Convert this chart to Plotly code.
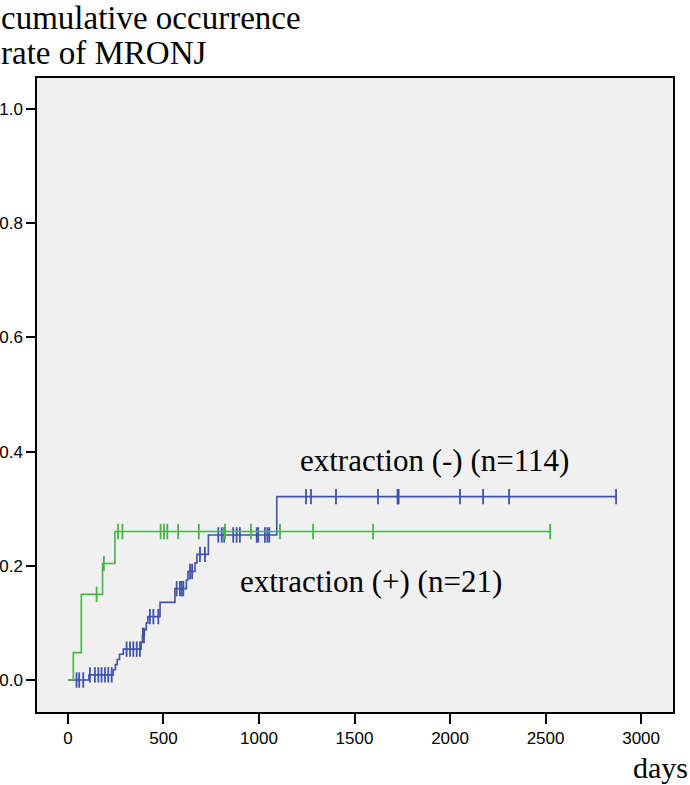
"""
Kumulative MRONJ-Inzidenz (Kaplan-Meier-Stil) nach Zahnextraktion
"""

import numpy as np
import plotly.graph_objects as go

# extraction (-) (n=114): Stufen (Tag, kumulative Rate nach der Stufe)
blau_tage = [0, 110, 237, 248, 258, 270, 290, 383, 390, 400, 410, 418,
             482, 560, 620, 628, 665, 675, 735, 1093]
blau_rate = [0.0, 0.009, 0.018, 0.027, 0.036, 0.045, 0.054, 0.066, 0.078,
             0.088, 0.100, 0.111, 0.136, 0.160, 0.175, 0.190, 0.205, 0.220,
             0.254, 0.321]
blau_ende = 2869
blau_zensiert = [45, 59, 80, 115, 141, 159, 176, 194, 211, 229,
                 307, 325, 342, 360, 377, 392, 398, 429, 447, 473,
                 569, 586, 595, 604, 639, 650, 691, 717,
                 787, 805, 818, 865, 883, 900, 988, 996, 1031, 1044, 1054,
                 1246, 1272, 1403, 1623, 1725, 1731, 2052, 2173, 2309, 2869]

# extraction (+) (n=21)
gruen_tage = [0, 28, 70, 181, 246]
gruen_rate = [0.0, 0.048, 0.150, 0.204, 0.260]
gruen_ende = 2524
gruen_zensiert = [150, 188, 262, 285, 485, 503, 520, 577, 685, 822, 958,
                  1110, 1283, 1597, 2524]

x_ticks = [0, 500, 1000, 1500, 2000, 2500, 3000]
y_ticks = [0.0, 0.2, 0.4, 0.6, 0.8, 1.0]

BLAU = "#3F51AE"
GRUEN = "#45B445"


def stufenwert(tage, rate, t):
    idx = np.searchsorted(tage, t, side="right") - 1
    return [rate[i] for i in idx]


fig = go.Figure()

for tage, rate, ende, zens, farbe in [
    (blau_tage, blau_rate, blau_ende, blau_zensiert, BLAU),
    (gruen_tage, gruen_rate, gruen_ende, gruen_zensiert, GRUEN),
]:
    fig.add_trace(go.Scatter(
        x=tage + [ende], y=rate + [rate[-1]],
        mode="lines", line=dict(color=farbe, width=1.6, shape="hv"),
        showlegend=False, hoverinfo="skip"
    ))
    fig.add_trace(go.Scatter(
        x=zens, y=stufenwert(tage, rate, zens),
        mode="markers",
        marker=dict(symbol="line-ns", size=11,
                    line=dict(color=farbe, width=1.8)),
        showlegend=False
    ))

serif = "Liberation Serif, Times New Roman, serif"

fig.add_annotation(text="cumulative occurrence", xref="paper", yref="paper",
                   x=-0.06, y=1.126, xanchor="left", yanchor="top",
                   showarrow=False, font=dict(family=serif, size=33, color="black"))
fig.add_annotation(text="rate of MRONJ", xref="paper", yref="paper",
                   x=-0.06, y=1.071, xanchor="left", yanchor="top",
                   showarrow=False, font=dict(family=serif, size=33, color="black"))
fig.add_annotation(text="days", xref="paper", yref="paper",
                   x=1.026, y=-0.058, xanchor="right", yanchor="top",
                   showarrow=False, font=dict(family=serif, size=30, color="black"))
fig.add_annotation(text="extraction (-) (n=114)", x=1920, y=0.385,
                   showarrow=False, font=dict(family=serif, size=31, color="black"))
fig.add_annotation(text="extraction (+) (n=21)", x=1585, y=0.172,
                   showarrow=False, font=dict(family=serif, size=31, color="black"))

achse = dict(showline=True, linecolor="black", linewidth=1.5, mirror=True,
             showgrid=False, zeroline=False, ticks="outside",
             tickcolor="black", tickwidth=1.5, automargin=False,
             tickfont=dict(family="Liberation Sans, Arial", size=17, color="black"))

fig.update_layout(
    width=690, height=785,
    margin=dict(l=37, r=17, t=78, b=73),
    paper_bgcolor="white", plot_bgcolor="#F0F0F0",
    xaxis=dict(achse, range=[-162, 3167], tickvals=x_ticks, ticklen=10),
    yaxis=dict(achse, range=[-0.056, 1.054], tickvals=y_ticks,
               tickformat=".1f", ticklen=9),
)

# Seitenrand des Browsers entfernen, damit die Grafik genau ins Fenster passt
fig.write_html("out.html", config={"displayModeBar": False},
               post_script="document.body.style.margin='0px';")
